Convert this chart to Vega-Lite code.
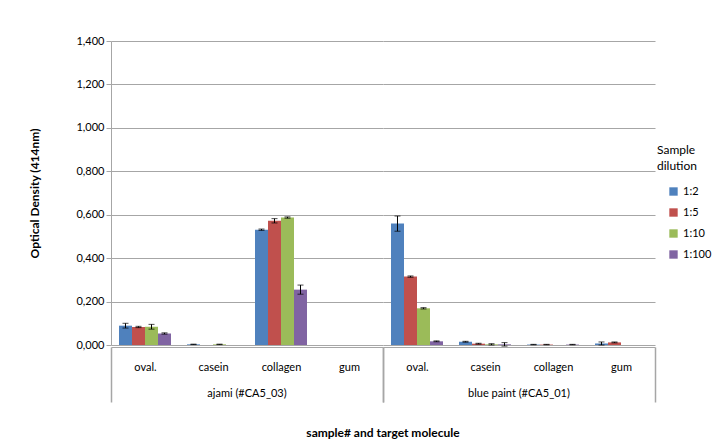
{
  "$schema": "https://vega.github.io/schema/vega-lite/v6.json",
  "padding": {"left": 28, "top": 35, "right": 5, "bottom": 2},
  "config": {
    "font": "Lato",
    "view": {"stroke": null},
    "axis": {"labelFont": "Lato", "titleFont": "Lato", "labelColor": "#000000", "domainColor": "#a6a6a6", "tickColor": "#a6a6a6", "gridColor": "#a6a6a6", "gridWidth": 1.2},
    "header": {"labelFont": "Lato", "titleFont": "Lato"},
    "legend": {"labelFont": "Lato", "titleFont": "Lato"}
  },
  "data": {"values": [
    {"sample": "ajami (#CA5_03)", "molecule": "oval.", "dilution": "1:2", "od": 0.089, "err": 0.011},
    {"sample": "ajami (#CA5_03)", "molecule": "oval.", "dilution": "1:5", "od": 0.083, "err": 0.003},
    {"sample": "ajami (#CA5_03)", "molecule": "oval.", "dilution": "1:10", "od": 0.084, "err": 0.011},
    {"sample": "ajami (#CA5_03)", "molecule": "oval.", "dilution": "1:100", "od": 0.053, "err": 0.003},
    {"sample": "ajami (#CA5_03)", "molecule": "casein", "dilution": "1:2", "od": 0.003, "err": 0.001},
    {"sample": "ajami (#CA5_03)", "molecule": "casein", "dilution": "1:5", "od": 0.0, "err": 0.0},
    {"sample": "ajami (#CA5_03)", "molecule": "casein", "dilution": "1:10", "od": 0.003, "err": 0.001},
    {"sample": "ajami (#CA5_03)", "molecule": "casein", "dilution": "1:100", "od": 0.0, "err": 0.0},
    {"sample": "ajami (#CA5_03)", "molecule": "collagen", "dilution": "1:2", "od": 0.531, "err": 0.003},
    {"sample": "ajami (#CA5_03)", "molecule": "collagen", "dilution": "1:5", "od": 0.572, "err": 0.01},
    {"sample": "ajami (#CA5_03)", "molecule": "collagen", "dilution": "1:10", "od": 0.587, "err": 0.003},
    {"sample": "ajami (#CA5_03)", "molecule": "collagen", "dilution": "1:100", "od": 0.255, "err": 0.021},
    {"sample": "ajami (#CA5_03)", "molecule": "gum", "dilution": "1:2", "od": 0.0, "err": 0.0},
    {"sample": "ajami (#CA5_03)", "molecule": "gum", "dilution": "1:5", "od": 0.0, "err": 0.0},
    {"sample": "ajami (#CA5_03)", "molecule": "gum", "dilution": "1:10", "od": 0.0, "err": 0.0},
    {"sample": "ajami (#CA5_03)", "molecule": "gum", "dilution": "1:100", "od": 0.0, "err": 0.0},
    {"sample": "blue paint (#CA5_01)", "molecule": "oval.", "dilution": "1:2", "od": 0.559, "err": 0.035},
    {"sample": "blue paint (#CA5_01)", "molecule": "oval.", "dilution": "1:5", "od": 0.315, "err": 0.003},
    {"sample": "blue paint (#CA5_01)", "molecule": "oval.", "dilution": "1:10", "od": 0.169, "err": 0.003},
    {"sample": "blue paint (#CA5_01)", "molecule": "oval.", "dilution": "1:100", "od": 0.017, "err": 0.002},
    {"sample": "blue paint (#CA5_01)", "molecule": "casein", "dilution": "1:2", "od": 0.015, "err": 0.002},
    {"sample": "blue paint (#CA5_01)", "molecule": "casein", "dilution": "1:5", "od": 0.006, "err": 0.002},
    {"sample": "blue paint (#CA5_01)", "molecule": "casein", "dilution": "1:10", "od": 0.003, "err": 0.003},
    {"sample": "blue paint (#CA5_01)", "molecule": "casein", "dilution": "1:100", "od": 0.003, "err": 0.008},
    {"sample": "blue paint (#CA5_01)", "molecule": "collagen", "dilution": "1:2", "od": 0.002, "err": 0.001},
    {"sample": "blue paint (#CA5_01)", "molecule": "collagen", "dilution": "1:5", "od": 0.002, "err": 0.001},
    {"sample": "blue paint (#CA5_01)", "molecule": "collagen", "dilution": "1:10", "od": 0.0, "err": 0.0},
    {"sample": "blue paint (#CA5_01)", "molecule": "collagen", "dilution": "1:100", "od": 0.002, "err": 0.001},
    {"sample": "blue paint (#CA5_01)", "molecule": "gum", "dilution": "1:2", "od": 0.007, "err": 0.007},
    {"sample": "blue paint (#CA5_01)", "molecule": "gum", "dilution": "1:5", "od": 0.012, "err": 0.002},
    {"sample": "blue paint (#CA5_01)", "molecule": "gum", "dilution": "1:10", "od": 0.0, "err": 0.0},
    {"sample": "blue paint (#CA5_01)", "molecule": "gum", "dilution": "1:100", "od": 0.0, "err": 0.0}
  ]},
  "transform": [
    {"calculate": "datum.od - datum.err", "as": "lo"},
    {"calculate": "datum.od + datum.err", "as": "hi"}
  ],
  "facet": {
    "column": {
      "field": "sample", "type": "nominal",
      "sort": ["ajami (#CA5_03)", "blue paint (#CA5_01)"],
      "title": "sample# and target molecule",
      "header": {"labelOrient": "bottom", "titleOrient": "bottom", "labelFontSize": 11, "labelPadding": -15, "labelColor": "#000000", "titleFontSize": 12, "titleFontWeight": "bold", "titlePadding": 15, "titleColor": "#000000"}
    }
  },
  "spacing": 0,
  "spec": {
    "width": 272,
    "height": 304,
    "encoding": {
      "x": {
        "field": "molecule", "type": "nominal",
        "sort": ["oval.", "casein", "collagen", "gum"],
        "scale": {"paddingInner": 0, "paddingOuter": 0},
        "axis": {
          "title": null, "labelAngle": 0, "labelFontSize": 11, "labelPadding": -41,
          "tickBand": "extent", "tickSize": 55,
          "tickColor": {"condition": {"test": "datum.value === 'oval.' || datum.value === 'casein' || datum.value === 'collagen'", "value": "transparent"}, "value": "#a6a6a6"},
          "tickWidth": 1.5
        }
      },
      "xOffset": {"field": "dilution", "type": "nominal", "sort": ["1:2", "1:5", "1:10", "1:100"], "scale": {"paddingInner": 0, "paddingOuter": 0.615}}
    },
    "layer": [
      {
        "mark": {"type": "bar"},
        "encoding": {
          "y": {"field": "od", "type": "quantitative", "scale": {"domain": [0, 1.4]},
            "axis": {"title": "Optical Density (414nm)", "titleFontSize": 12, "titleFontWeight": "bold", "titleColor": "#000000", "titlePadding": 34,
              "values": [0, 0.2, 0.4, 0.6, 0.8, 1.0, 1.2, 1.4],
              "labelExpr": "replace(format(datum.value, '.3f'), '.', ',')", "labelFontSize": 11, "tickSize": 5}},
          "color": {"field": "dilution", "type": "nominal", "sort": ["1:2", "1:5", "1:10", "1:100"],
            "scale": {"domain": ["1:2", "1:5", "1:10", "1:100"], "range": ["#4F81BD", "#C0504D", "#9BBB59", "#8064A2"]},
            "legend": {"title": ["Sample", "dilution"], "orient": "none", "legendX": 546, "legendY": 104, "symbolType": "square", "symbolSize": 70, "symbolStrokeWidth": 0, "labelFontSize": 11, "titleFontSize": 12, "titleLineHeight": 16, "titleFontWeight": "normal", "rowPadding": 9, "titlePadding": 13, "padding": 0, "symbolOffset": 11, "labelOffset": 4}}
        }
      },
      {
        "transform": [{"filter": "datum.err > 0"}],
        "mark": {"type": "rule", "color": "#000000", "strokeWidth": 1},
        "encoding": {"y": {"field": "lo", "type": "quantitative"}, "y2": {"field": "hi"}}
      },
      {
        "transform": [{"filter": "datum.err > 0"}],
        "mark": {"type": "tick", "color": "#000000", "thickness": 1, "size": 6},
        "encoding": {"y": {"field": "lo", "type": "quantitative"}}
      },
      {
        "transform": [{"filter": "datum.err > 0"}],
        "mark": {"type": "tick", "color": "#000000", "thickness": 1, "size": 6},
        "encoding": {"y": {"field": "hi", "type": "quantitative"}}
      }
    ]
  }
}
